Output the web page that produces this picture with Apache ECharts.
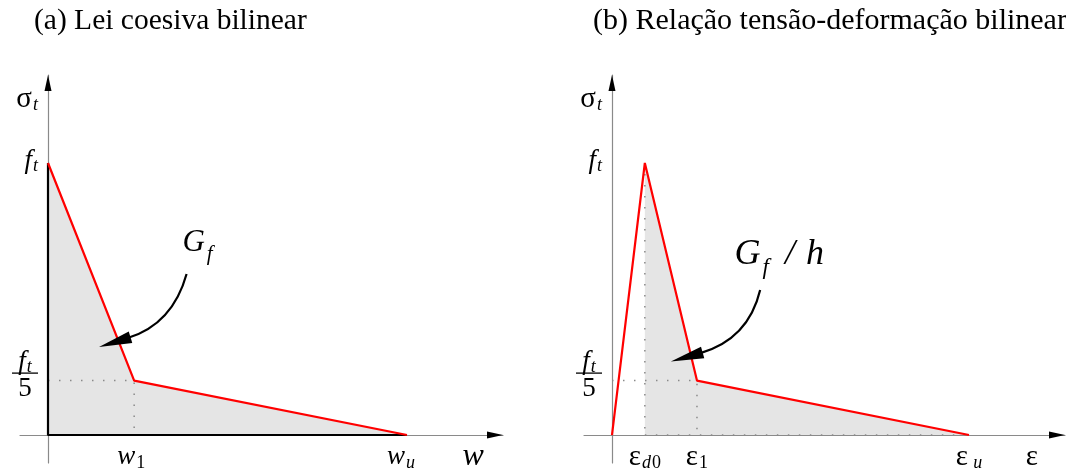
<!DOCTYPE html>
<html><head><meta charset="utf-8">
<script src="https://cdn.jsdelivr.net/npm/echarts@6/dist/echarts.min.js"></script>
<style>html,body{margin:0;padding:0;background:#fff}#c{width:1066px;height:475px}</style>
</head><body><div id="c"></div>
<script>
// ---------------- data (σ normalised by f_t, abscissa normalised by ultimate value) ----------------
const titles        = ['(a) Lei coesiva bilinear', '(b) Relação tensão-deformação bilinear'];
const cohesiveW     = [0, 0.24, 1.0];            // 0, w1, wu
const cohesiveSigma = [1.0, 0.2, 0];             // ft, ft/5, 0
const strainEps     = [0, 0.092, 0.238, 1.0];    // 0, εd0, ε1, εu
const strainSigma   = [0, 1.0, 0.2, 0];          // 0, ft, ft/5, 0
const yTickValues   = [0.2, 1.0, 1.225];         // ft/5, ft, axis name σt
const yTickLabels   = ['{fn|f}{fs|t}\n{bar| }\n{five|5}', '{it|f}{sub|t}', '{gr|σ}{sub|t}'];
const xTickValuesA  = [0.24, 1.0, 1.184];        // w1, wu, axis name w
const xTickLabelsA  = ['{it|w}{subu|1}{sp| }', '{it|w}{sub|u}{sp2| }', '{big|w}'];
const xTickValuesB  = [0.092, 0.238, 1.0, 1.176];// εd0, ε1, εu, axis name ε
const xTickLabelsB  = ['{gr|ε}{sub|d}{subu|0}', '{gr|ε}{subu|1}', '{gr|ε}{sub| u}', '{gr|ε}'];
const energyPosA    = [0.373, 0.706];            // label "G_f"
const energyPosB    = [0.342, 0.665];            // label "G_f / h"
const energyLabels  = ['{G|G}{Gs|f}', '{G2|G}{G2s|f}{sl|/}{G2h|h}'];
// annotation arrows: start, control1, control2, tip  (data coords)
const arrowA = [0.386, 0.592, 0.362, 0.478, 0.312, 0.393, 0.142, 0.324];
const arrowB = [0.415, 0.533, 0.395, 0.423, 0.347, 0.338, 0.165, 0.270];

// ---------------- styling ----------------
const SERIF = '"Liberation Serif", "Times New Roman", serif';
const X_A = [-0.078, 1.2674], X_B = [-0.0784, 1.2689], Y_R = [-0.1029, 1.3235];
const rich = {
  it:   {fontFamily: SERIF, fontStyle: 'italic', fontSize: 27, lineHeight: 28, color: '#000'},
  big:  {fontFamily: SERIF, fontStyle: 'italic', fontSize: 32, lineHeight: 28, color: '#000'},
  gr:   {fontFamily: SERIF, fontSize: 29, lineHeight: 28, color: '#000'},
  sub:  {fontFamily: SERIF, fontStyle: 'italic', fontSize: 18, lineHeight: 28, padding: [12, 0, 0, 1], color: '#000'},
  subu: {fontFamily: SERIF, fontSize: 18, lineHeight: 28, padding: [12, 0, 0, 1], color: '#000'},
  sp:   {width: 6, fontSize: 4},
  sp2:  {width: 12, fontSize: 4},
  fn:   {fontFamily: SERIF, fontStyle: 'italic', fontSize: 27, lineHeight: 18, align: 'center', color: '#000'},
  fs:   {fontFamily: SERIF, fontStyle: 'italic', fontSize: 18, lineHeight: 18, padding: [10, 0, 0, 1], align: 'center', color: '#000'},
  bar:  {width: 26, height: 1.3, lineHeight: 4, backgroundColor: '#000', align: 'center', fontSize: 4},
  five: {fontFamily: SERIF, fontSize: 27, lineHeight: 28, align: 'center', color: '#000'},
  G:    {fontFamily: SERIF, fontStyle: 'italic', fontSize: 31, lineHeight: 36, color: '#000'},
  Gs:   {fontFamily: SERIF, fontStyle: 'italic', fontSize: 21, lineHeight: 36, padding: [24, 0, 0, 2], color: '#000'},
  G2:   {fontFamily: SERIF, fontStyle: 'italic', fontSize: 36, lineHeight: 40, color: '#000'},
  G2s:  {fontFamily: SERIF, fontStyle: 'italic', fontSize: 23, lineHeight: 40, padding: [28, 0, 0, 2], color: '#000'},
  sl:   {fontFamily: SERIF, fontStyle: 'italic', fontSize: 36, lineHeight: 40, padding: [0, 0, 0, 16], color: '#000'},
  G2h:  {fontFamily: SERIF, fontStyle: 'italic', fontSize: 36, lineHeight: 40, padding: [0, 0, 0, 11], color: '#000'}
};
function fmt(values, labels) {
  return function (v) {
    for (let i = 0; i < values.length; i++) if (Math.abs(values[i] - v) < 1e-6) return labels[i];
    return '';
  };
}
const axisLine = {show: true, onZero: true, lineStyle: {color: '#8a8a8a', width: 1.2}};
function xAxis(idx, ext, vals, labs) {
  return {type: 'value', gridIndex: idx, min: ext[0], max: ext[1], axisLine: axisLine,
    axisTick: {show: false}, splitLine: {show: false},
    axisLabel: {customValues: vals, formatter: fmt(vals, labs), rich: rich, margin: -20, hideOverlap: false, color: '#000'}};
}
function yAxis(idx) {
  return {type: 'value', gridIndex: idx, min: Y_R[0], max: Y_R[1], axisLine: axisLine,
    axisTick: {show: false}, splitLine: {show: false},
    axisLabel: {customValues: yTickValues, formatter: fmt(yTickValues, yTickLabels), rich: rich, margin: -18, hideOverlap: false, padding: [0, 0, 5, 0], color: '#000'}};
}
const zip = (a, b) => a.map((v, i) => [v, b[i]]);
const dotted = {color: '#8a8a8a', width: 1.5, type: [1.5, 9.5]};
function dots(idx, pts) {
  return {type: 'line', xAxisIndex: idx, yAxisIndex: idx, data: pts, symbol: 'none', silent: true, z: 3,
    lineStyle: dotted, animation: false};
}
function renderCurveArrow(params, api) {
  const S = api.coord([api.value(0), api.value(1)]);
  const C1 = api.coord([api.value(2), api.value(3)]);
  const C2 = api.coord([api.value(4), api.value(5)]);
  const T = api.coord([api.value(6), api.value(7)]);
  const dx = T[0] - C2[0], dy = T[1] - C2[1], L = Math.hypot(dx, dy), ux = dx / L, uy = dy / L;
  const HL = 33, HW = 6;
  const B = [T[0] - ux * HL, T[1] - uy * HL];
  const P1 = [B[0] - uy * HW, B[1] + ux * HW], P2 = [B[0] + uy * HW, B[1] - ux * HW];
  return {type: 'group', children: [
    {type: 'bezierCurve', shape: {x1: S[0], y1: S[1], cpx1: C1[0], cpy1: C1[1], cpx2: C2[0], cpy2: C2[1], x2: B[0] + ux * 3, y2: B[1] + uy * 3},
      style: {stroke: '#000', lineWidth: 2.2, fill: 'none'}},
    {type: 'polygon', shape: {points: [T, P1, P2]}, style: {fill: '#000'}}
  ]};
}
function renderAxisArrow(params, api) {
  const T = api.coord([api.value(0), api.value(1)]);
  const horiz = api.value(2) === 0;
  const pts = horiz ? [T, [T[0] - 16, T[1] - 3.5], [T[0] - 16, T[1] + 3.5]]
                    : [T, [T[0] - 3.5, T[1] + 16], [T[0] + 3.5, T[1] + 16]];
  return {type: 'polygon', shape: {points: pts}, style: {fill: '#000'}};
}
function axisArrows(idx, ext) {
  return {type: 'custom', xAxisIndex: idx, yAxisIndex: idx, renderItem: renderAxisArrow, silent: true, z: 10,
    data: [[ext[1], 0, 0], [0, Y_R[1], 1]], animation: false};
}
function curveArrow(idx, a) {
  return {type: 'custom', xAxisIndex: idx, yAxisIndex: idx, renderItem: renderCurveArrow, silent: true, z: 10,
    data: [a], encode: {x: [0, 2, 4, 6], y: [1, 3, 5, 7]}, animation: false};
}
function energyLabel(idx, pos, text) {
  return {type: 'scatter', xAxisIndex: idx, yAxisIndex: idx, data: [pos], symbolSize: 1, silent: true, z: 10,
    itemStyle: {color: 'transparent'},
    label: {show: true, position: 'right', distance: 0, formatter: text, rich: rich, color: '#000', opacity: 1}, animation: false};
}

const lawA = zip(cohesiveW, cohesiveSigma);
const lawB = zip(strainEps, strainSigma);
const shadedB = [[strainEps[1], 0]].concat(lawB.slice(1));

const titleStyle = {fontFamily: SERIF, fontSize: 29.5, fontWeight: 'normal', color: '#000'};
const option = {
  backgroundColor: '#fff',
  animation: false,
  title: [
    {text: titles[0], left: 34, top: 6, padding: 0, textStyle: titleStyle},
    {text: titles[1], left: 593, top: 6, padding: 0, textStyle: {...titleStyle, fontSize: 30}}
  ],
  grid: [
    {left: 20, top: 75, width: 483, height: 388, containLabel: false, outerBoundsMode: 'none'},
    {left: 584, top: 75, width: 481, height: 388, containLabel: false, outerBoundsMode: 'none'}
  ],
  xAxis: [xAxis(0, X_A, xTickValuesA, xTickLabelsA), xAxis(1, X_B, xTickValuesB, xTickLabelsB)],
  yAxis: [yAxis(0), yAxis(1)],
  series: [
    // (a)
    {type: 'line', xAxisIndex: 0, yAxisIndex: 0, data: lawA, symbol: 'none', z: 1, silent: true,
      lineStyle: {width: 0}, areaStyle: {color: '#e5e5e5', opacity: 1}},
    dots(0, [[0, cohesiveSigma[1]], [cohesiveW[1], cohesiveSigma[1]], [cohesiveW[1], 0]]),
    {type: 'line', xAxisIndex: 0, yAxisIndex: 0, data: [[0, cohesiveSigma[0]], [0, 0], [cohesiveW[2], 0]], symbol: 'none', z: 4, silent: true,
      lineStyle: {color: '#000', width: 2.2}},
    {type: 'line', xAxisIndex: 0, yAxisIndex: 0, data: lawA, symbol: 'none', z: 5, silent: true,
      lineStyle: {color: '#ff0000', width: 2.2}},
    curveArrow(0, arrowA),
    energyLabel(0, energyPosA, energyLabels[0]),
    axisArrows(0, X_A),
    // (b)
    {type: 'line', xAxisIndex: 1, yAxisIndex: 1, data: shadedB, symbol: 'none', z: 1, silent: true,
      lineStyle: {width: 0}, areaStyle: {color: '#e5e5e5', opacity: 1}},
    dots(1, [[strainEps[1], strainSigma[1]], [strainEps[1], 0]]),
    dots(1, [[0, strainSigma[2]], [strainEps[2], strainSigma[2]], [strainEps[2], 0]]),
    dots(1, [[strainEps[1], 0], [strainEps[3], 0]]),
    {type: 'line', xAxisIndex: 1, yAxisIndex: 1, data: lawB, symbol: 'none', z: 5, silent: true,
      lineStyle: {color: '#ff0000', width: 2.2}},
    curveArrow(1, arrowB),
    energyLabel(1, energyPosB, energyLabels[1]),
    axisArrows(1, X_B)
  ]
};
const chart = echarts.init(document.getElementById('c'), null, {renderer: 'canvas'});
chart.setOption(option);
</script>
</body></html>
